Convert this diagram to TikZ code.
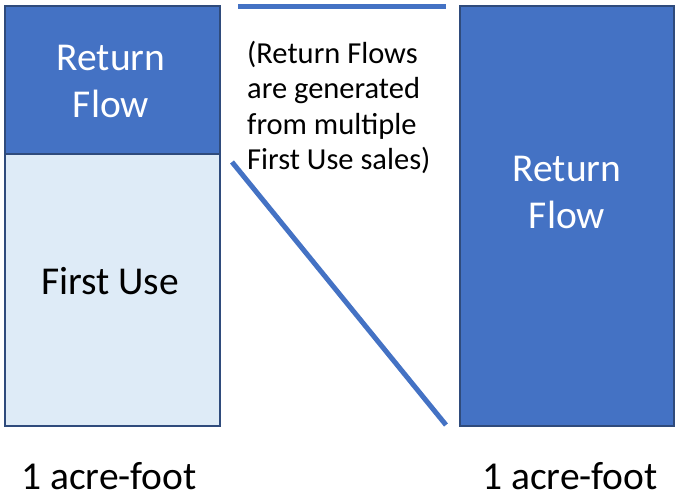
\documentclass[tikz,border=0pt]{standalone}
\usepackage{fontspec}
\setmainfont{Carlito}
\definecolor{flowblue}{HTML}{4472C4}
\definecolor{edgeblue}{HTML}{2F4B7C}
\definecolor{paleblue}{HTML}{DEEBF7}
\begin{document}
\begin{tikzpicture}[x=1pt,y=-1pt,
  block/.style={draw=edgeblue, line width=1.6pt, inner sep=0pt, anchor=north west},
  darkblock/.style={block, fill=flowblue},
  lightblock/.style={block, fill=paleblue},
  bigtext/.style={font=\fontsize{39.5}{47}\selectfont, inner sep=0pt},
  stacktext/.style={bigtext, align=center},
  notetext/.style={font=\fontsize{30.5}{35.5}\selectfont, align=left, inner sep=0pt, anchor=north west},
  stroke/.style={draw=flowblue, line width=5pt}]
  \useasboundingbox (0,0) rectangle (675,498);
  % left column: return flow on top of first use
  \node[lightblock, minimum width=215pt, minimum height=272pt] (firstuse) at (4,153) {};
  \node[darkblock, minimum width=215pt, minimum height=148pt] (retleft) at (4,5) {};
  % right column: return flow only
  \node[darkblock, minimum width=214pt, minimum height=420pt] (retright) at (459,5) {};
  % labels inside the columns
  \node[stacktext, text=white] (retlefttxt) at (111,81) {Return\\Flow};
  \node[bigtext] (firstusetxt) at (110,281) {First Use};
  \node[stacktext, text=white] (retrighttxt) at (567,192) {Return\\Flow};
  % note between the columns
  \node[notetext] (note) at (247,41) {(Return Flows\\are generated\\from multiple\\First Use sales)};
  % separating strokes
  \coordinate (topa) at (238,6);
  \coordinate (topb) at (446,6);
  \coordinate (diaga) at (232,162);
  \coordinate (diagb) at (446,425);
  \draw[stroke] (topa) -- (topb);
  \draw[stroke] (diaga) -- (diagb);
  % volume labels
  \node[bigtext, anchor=base] (volleft) at (109,489) {1 acre-foot};
  \node[bigtext, anchor=base] (volright) at (570,489) {1 acre-foot};
\end{tikzpicture}
\end{document}
